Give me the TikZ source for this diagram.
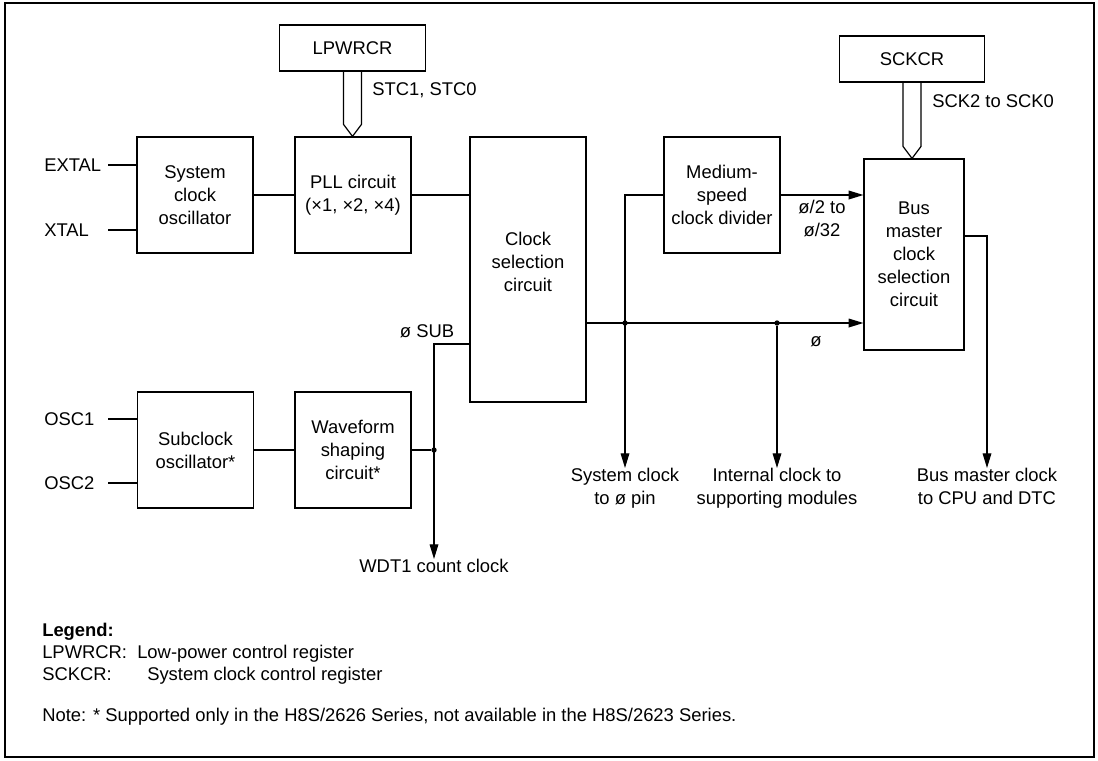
\documentclass[tikz,border=0pt]{standalone}
\usepackage{fontspec}
\setmainfont{Liberation Sans}
\usetikzlibrary{arrows.meta,calc}
\tikzset{
  blk/.style={draw,line width=0.9pt,align=center,inner sep=0pt,minimum width=87pt,minimum height=87pt},
  reg/.style={draw,line width=0.9pt,inner sep=0pt,minimum width=109pt,minimum height=34.5pt},
  wire/.style={line width=0.9pt},
  sig/.style={line width=0.9pt,-{Triangle[length=11pt,width=6.5pt]}},
  lbl/.style={inner sep=0pt,align=center},
  jdot/.style={circle,fill,inner sep=0pt,minimum size=4pt},
}
\begin{document}
\begin{tikzpicture}[x=0.75pt,y=-0.75pt,font=\fontsize{13.8}{17.25}\selectfont]
\useasboundingbox (0,0) rectangle (1098,760);
\draw[line width=1pt] (5,3) rectangle (1094,757);

\node[reg] (lpwrcr) at (352.5,48) {LPWRCR};
\node[reg] (sckcr) at (912,59) {SCKCR};
\node[blk] (sysosc) at (195,195) {System\\clock\\oscillator};
\node[blk] (pll) at (353,195) {PLL circuit\\(×1, ×2, ×4)};
\node[blk,minimum height=198.75pt,label={[lbl,yshift=5.6pt]center:Clock\\selection\\circuit}] (clksel) at (528,269.5) {};
\node[blk] (mdiv) at (722,195) {Medium-\\speed\\clock divider};
\node[blk,minimum width=75pt,minimum height=143.25pt] (busm) at (914,254.5) {Bus\\master\\clock\\selection\\circuit};
\node[blk] (subosc) at (195.5,450) {Subclock\\oscillator*};
\node[blk] (wave) at (353,450) {Waveform\\shaping\\circuit*};

\node[lbl,anchor=west] (extal) at (44,165) {EXTAL};
\node[lbl,anchor=west] (xtal) at (44,230) {XTAL};
\node[lbl,anchor=west] (osc1) at (44,419) {OSC1};
\node[lbl,anchor=west] (osc2) at (44,483) {OSC2};
\coordinate (pinx) at (108,0);
\foreach \p/\b in {extal/sysosc,xtal/sysosc,osc1/subosc,osc2/subosc}
  \draw[wire] (\p -| pinx) -- (\p -| \b.west);

% register bit fields
\coordinate (stcin) at (lpwrcr.south |- pll.north);
\coordinate (sckin) at (sckcr.south |- busm.north);
\draw[wire] ($(lpwrcr.south)+(-9,0)$) -- ($(stcin)+(-9,-12)$) -- (stcin) -- ($(stcin)+(9,-12)$) -- ($(lpwrcr.south)+(9,0)$);
\draw[wire] ($(sckcr.south)+(-9,0)$) -- ($(sckin)+(-9,-12)$) -- (sckin) -- ($(sckin)+(9,-12)$) -- ($(sckcr.south)+(9,0)$);
\node[lbl,anchor=west] (stc) at (372,90) {STC1, STC0};
\node[lbl,anchor=west] (sck) at (932,101) {SCK2 to SCK0};

\draw[wire] (sysosc) -- (pll);
\draw[wire] (pll.east) -- (pll.east -| clksel.west);
\draw[wire] (subosc) -- (wave);

\node[lbl,anchor=north] (sysclk) at (625,468) {System clock\\to ø pin};
\node[lbl,anchor=north] (intclk) at (777,468) {Internal clock to\\supporting modules};
\node[lbl,anchor=north] (busclk) at (987,468) {Bus master clock\\to CPU and DTC};
\node[lbl,anchor=north] (wdt) at (434,559) {WDT1 count clock};

\node[jdot] (d1) at (625,323) {};
\node[jdot] (d2) at (777,323) {};
\node[jdot] (d3) at (434,450) {};

\draw[sig] (clksel.east |- d1) -- (busm.west |- d1);
\draw[sig] (mdiv.west) -| (sysclk.north);
\draw[sig] (d2) -- (intclk.north);
\draw[sig] (mdiv.east) -- (mdiv.east -| busm.west);
\draw[sig] ([yshift=13.9pt]busm.east) -| (busclk.north);
\draw[wire] (wave.east) -- (d3);
\draw[sig] ([yshift=-55.9pt]clksel.west) -| (wdt.north);

\node[lbl] (phi) at (816,342) {ø};
\node[lbl] (phisub) at (427,331) {ø SUB};
\node[lbl] (divlbl) at (822,219) {ø/2 to\\ø/32};

\node[lbl,anchor=base west] (legend) at (42,636.5) {\textbf{Legend:}};
\node[lbl,anchor=base west] (lg1) at (42,658.5) {LPWRCR:};
\node[lbl,anchor=base west] (lg1t) at (137,658.5) {Low-power control register};
\node[lbl,anchor=base west] (lg2) at (42,680.5) {SCKCR:};
\node[lbl,anchor=base west] (lg2t) at (147,680.5) {System clock control register};
\node[lbl,anchor=base west] (note) at (42,721.5) {Note: * Supported only in the H8S/2626 Series, not available in the H8S/2623 Series.};
\end{tikzpicture}
\end{document}
